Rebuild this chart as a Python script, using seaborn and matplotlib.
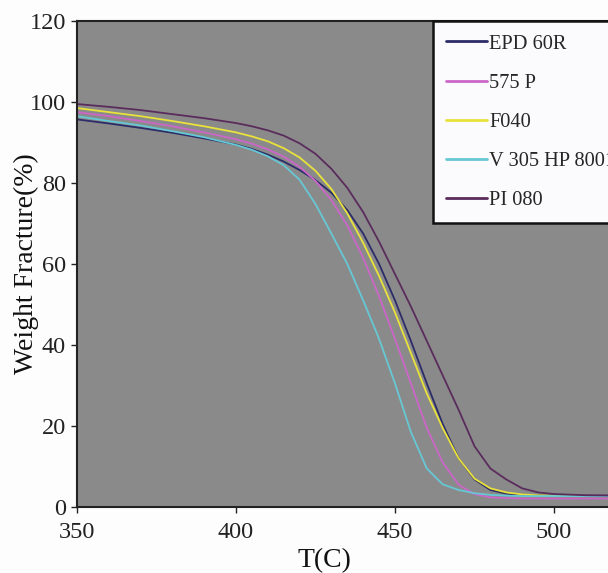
import numpy as np
import pandas as pd
import matplotlib
matplotlib.use("Agg")
import matplotlib.pyplot as plt
import seaborn as sns

temps = [350, 360, 370, 380, 390, 400, 405, 410, 415, 420, 425, 430, 435, 440,
         445, 450, 455, 460, 465, 470, 475, 480, 485, 490, 495, 500, 510, 520]

epd_60r = [95.7, 94.7, 93.6, 92.4, 91.0, 89.5, 88.4, 87.0, 85.3, 83.2, 80.7, 77.6, 73.3, 67.5,
           60.0, 51.0, 41.0, 30.5, 20.5, 12.0, 6.8, 4.2, 3.3, 3.0, 2.9, 2.8, 2.8, 2.8]
p575 = [97.5, 96.5, 95.3, 94.0, 92.5, 90.8, 89.7, 88.3, 86.5, 84.0, 80.5, 75.8, 69.5, 61.5,
        52.0, 41.5, 30.5, 19.5, 11.0, 5.5, 3.2, 2.4, 2.2, 2.1, 2.1, 2.1, 2.1, 2.1]
f040 = [98.5, 97.5, 96.5, 95.3, 94.0, 92.5, 91.5, 90.3, 88.6, 86.3, 83.0, 78.5, 72.5, 65.2,
        57.0, 48.0, 38.0, 28.0, 19.5, 12.0, 7.0, 4.6, 3.6, 3.1, 2.9, 2.8, 2.7, 2.7]
v305 = [96.5, 95.3, 94.2, 92.8, 91.3, 89.4, 88.2, 86.6, 84.4, 80.8, 74.8, 67.5, 60.0, 51.0,
        41.5, 30.5, 18.5, 9.5, 5.6, 4.2, 3.4, 3.0, 2.8, 2.7, 2.7, 2.7, 2.7, 2.7]
pi080 = [99.5, 98.8, 98.0, 97.0, 96.0, 94.8, 94.0, 93.0, 91.7, 89.8, 87.2, 83.5, 78.8, 72.8,
         65.5, 57.5, 49.5, 41.0, 32.5, 24.0, 15.0, 9.5, 6.8, 4.6, 3.6, 3.2, 2.9, 2.8]

series_names = ["EPD 60R", "575 P", "F040", "V 305 HP 8001", "PI 080"]
series_values = [epd_60r, p575, f040, v305, pi080]
series_colors = ["#2c2c68", "#cc66c8", "#e8e23a", "#66c8d4", "#5a2c5c"]

x_ticks = [350, 400, 450, 500]
y_ticks = [0, 20, 40, 60, 80, 100, 120]

df = pd.DataFrame({
    "T": np.tile(temps, len(series_names)),
    "W": np.concatenate(series_values),
    "Sample": np.repeat(series_names, len(temps)),
})

sns.set_style("white")
plt.rcParams["font.family"] = ["Liberation Serif", "DejaVu Serif"]

fig = plt.figure(figsize=(6.08, 5.73), dpi=100)
fig.patch.set_facecolor("#fdfdfd")
ax = fig.add_axes([77 / 608, 66 / 573, 1 - 77 / 608, 486 / 573])
ax.set_facecolor("#8b8a8b")

sns.lineplot(data=df, x="T", y="W", hue="Sample", hue_order=series_names,
             palette=dict(zip(series_names, series_colors)), linewidth=1.3,
             ax=ax, legend=True)

ax.set_xlim(350, 350 + 531 / 3.18)
ax.set_ylim(0, 120)
ax.set_xticks(x_ticks)
ax.set_yticks(y_ticks)
ax.tick_params(axis="both", direction="out", length=4, width=1, colors="#222222",
               labelsize=17.5, bottom=True, left=True)
ax.tick_params(axis="x", pad=7)
ax.tick_params(axis="y", pad=4)
for s in ["left", "bottom", "top"]:
    ax.spines[s].set_color("#222222")
    ax.spines[s].set_linewidth(1.5)
ax.spines["right"].set_visible(False)

ax.set_xlabel("T(C)", fontsize=20, color="#111111", va="center", ha="center")
ax.xaxis.set_label_coords((324 - 77) / 531, -54 / 486)
ax.set_ylabel("Weight Fracture(%)", fontsize=20, color="#111111", va="center", ha="center")
ax.yaxis.set_label_coords((26 - 77) / 531, 0.5)

handles, labels = ax.get_legend_handles_labels()
ax.get_legend().remove()
leg = fig.legend(handles, labels, loc="upper left",
                 bbox_to_anchor=(433 / 608, 1 - 21 / 573), bbox_transform=fig.transFigure,
                 borderaxespad=0, frameon=True, fancybox=False, fontsize=14.7,
                 handlelength=2.0, handletextpad=0.1, labelspacing=0.97,
                 borderpad=0.65)
frame = leg.get_frame()
frame.set_edgecolor("#111111")
frame.set_linewidth(1.8)
frame.set_facecolor("#fbfbfd")
frame.set_alpha(1)
for line in leg.get_lines():
    line.set_linewidth(2)

fig.savefig("out.png", dpi=100, facecolor=fig.get_facecolor())
